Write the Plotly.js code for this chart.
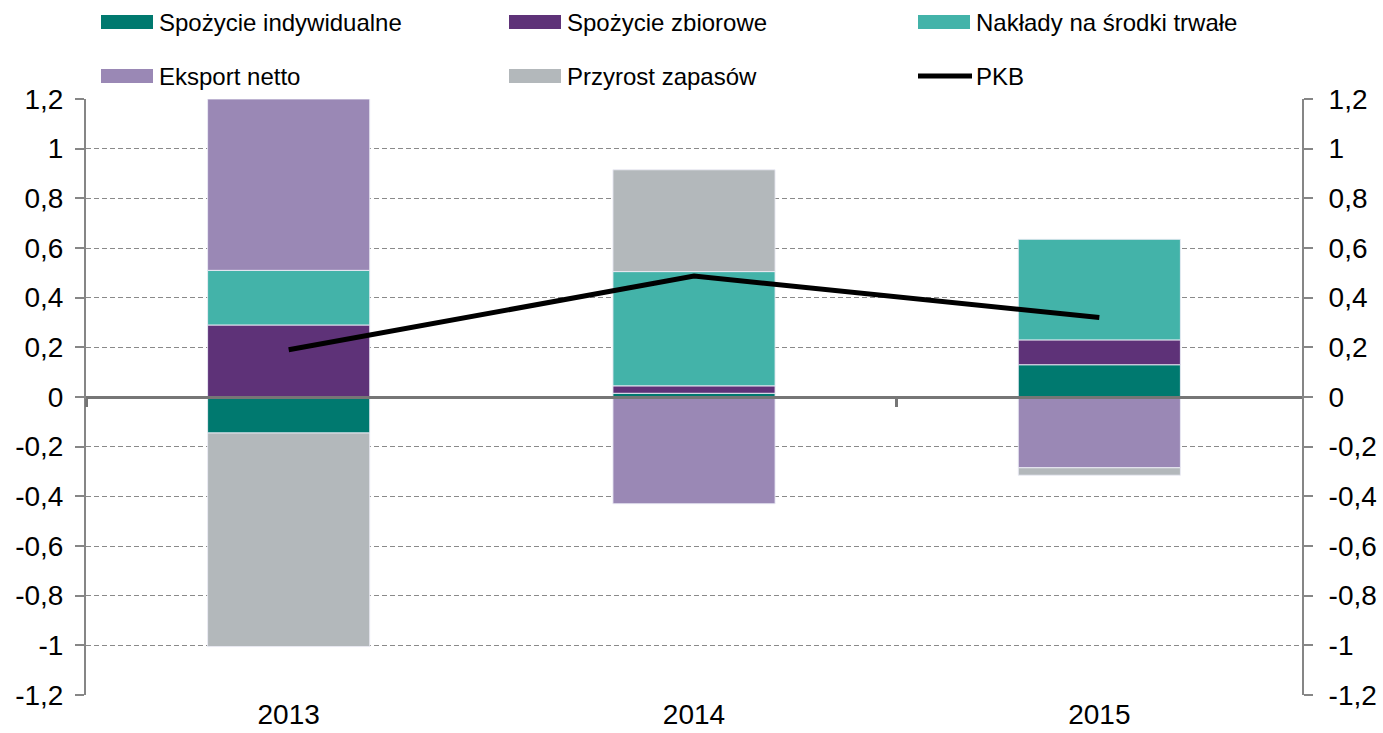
<!DOCTYPE html>
<html>
<head>
<meta charset="utf-8">
<script src="https://cdn.plot.ly/plotly-3.0.1.min.js"></script>
<style>html,body{margin:0;padding:0;background:#fff;}#chart{width:1383px;height:733px;}</style>
</head>
<body>
<div id="chart"></div>
<script>
// ---- data ----
const years = ['2013', '2014', '2015'];
const seriesNames = ['Spożycie indywidualne', 'Spożycie zbiorowe', 'Nakłady na środki trwałe', 'Eksport netto', 'Przyrost zapasów'];
const seriesColors = ['#00796F', '#5E3278', '#43B3A9', '#9A88B5', '#B3B8BB'];
const spozycieIndywidualne = [-0.145, 0.015, 0.13];
const spozycieZbiorowe = [0.29, 0.03, 0.10];
const nakladyNaSrodkiTrwale = [0.22, 0.46, 0.405];
const eksportNetto = [0.69, -0.43, -0.285];
const przyrostZapasow = [-0.86, 0.41, -0.03];
const pkb = [0.19, 0.487, 0.32];
const lineName = 'PKB';
const yTickVals = [-1.2, -1, -0.8, -0.6, -0.4, -0.2, 0, 0.2, 0.4, 0.6, 0.8, 1, 1.2];
const yTickLabels = ['-1,2', '-1', '-0,8', '-0,6', '-0,4', '-0,2', '0', '0,2', '0,4', '0,6', '0,8', '1', '1,2'];

const seriesValues = [spozycieIndywidualne, spozycieZbiorowe, nakladyNaSrodkiTrwale, eksportNetto, przyrostZapasow];
const yearIndex = years.map((_, i) => i);

const traces = seriesValues.map((vals, i) => ({
  type: 'bar', x: years, y: vals, name: seriesNames[i],
  marker: {color: seriesColors[i], line: {color: 'rgba(235,235,245,0.9)', width: 1}},
  width: 0.4, showlegend: false
}));
traces.push({
  type: 'scatter', mode: 'lines', x: years, y: pkb, name: lineName,
  line: {color: '#000000', width: 5}, showlegend: false
});
// invisible helper trace so the right axis and the zero-crossing axis are drawn
traces.push({type: 'scatter', x: yearIndex, y: pkb, xaxis: 'x2', yaxis: 'y2', mode: 'none', showlegend: false, hoverinfo: 'skip'});

// ---- custom legend (built from names/colors) ----
const W = 1383, H = 733, L = 86, R = 81, T = 99, B = 38;
const pw = W - L - R, ph = H - T - B;
const px2x = p => (p - L) / pw;
const py2y = p => (H - B - p) / ph;
const legendItems = [
  {name: seriesNames[0], color: seriesColors[0], type: 'box'},
  {name: seriesNames[1], color: seriesColors[1], type: 'box'},
  {name: seriesNames[2], color: seriesColors[2], type: 'box'},
  {name: seriesNames[3], color: seriesColors[3], type: 'box'},
  {name: seriesNames[4], color: seriesColors[4], type: 'box'},
  {name: lineName, color: '#000000', type: 'line'}
];
const colX = [101, 509, 918];
const rowY = [22, 76];
const shapes = [];
const annotations = [];
legendItems.forEach((it, k) => {
  const cx = colX[k % 3], cy = rowY[Math.floor(k / 3)];
  if (it.type === 'box') {
    shapes.push({type: 'rect', xref: 'paper', yref: 'paper', x0: px2x(cx), x1: px2x(cx + 52), y0: py2y(cy + 7), y1: py2y(cy - 7), fillcolor: it.color, line: {width: 0}});
  } else {
    shapes.push({type: 'line', xref: 'paper', yref: 'paper', x0: px2x(cx), x1: px2x(cx + 54), y0: py2y(cy), y1: py2y(cy), line: {color: it.color, width: 5}});
  }
  annotations.push({xref: 'paper', yref: 'paper', x: px2x(cx + 56), y: py2y(cy), xanchor: 'left', yanchor: 'middle', text: it.name, showarrow: false, font: {size: 24, color: '#000', family: 'Liberation Sans, Arial, sans-serif'}});
});

const fam = 'Liberation Sans, Arial, sans-serif';
const yTickFont = {size: 28, color: '#000', family: fam};
const xTickFont = {size: 28, color: '#000', family: fam};
const layout = {
  width: W, height: H,
  margin: {l: L, r: R, t: T, b: B, pad: 0},
  paper_bgcolor: '#fff', plot_bgcolor: '#fff',
  barmode: 'relative',
  showlegend: false,
  font: {family: fam, color: '#000'},
  xaxis: {type: 'category', showline: false, showgrid: false, zeroline: false, ticks: '', tickfont: xTickFont, ticklabelstandoff: 0},
  xaxis2: {overlaying: 'x', type: 'linear', range: [-0.5, 2.5], anchor: 'free', position: 0.5,
    tickvals: [-0.5, 1.5], showticklabels: false, ticks: 'outside', ticklen: 8, tickwidth: 3, tickcolor: '#767676',
    showline: true, linewidth: 3, linecolor: '#767676', showgrid: false, zeroline: false, layer: 'above traces'},
  yaxis: {range: [-1.2, 1.2], tickvals: yTickVals, ticktext: yTickLabels, showgrid: true, gridcolor: '#8a8a8a', gridwidth: 1, griddash: '5px,3px',
    zeroline: false, showline: true, linecolor: '#868686', linewidth: 2, ticks: 'outside', ticklen: 9, tickcolor: '#868686', tickwidth: 2,
    tickfont: yTickFont, ticklabelstandoff: 6},
  yaxis2: {overlaying: 'y', side: 'right', range: [-1.2, 1.2], tickvals: yTickVals, ticktext: yTickLabels, showgrid: false,
    zeroline: false, showline: true, linecolor: '#868686', linewidth: 2, ticks: 'outside', ticklen: 9, tickcolor: '#868686', tickwidth: 2,
    tickfont: yTickFont, ticklabelstandoff: 10},
  shapes: shapes, annotations: annotations
};

Plotly.newPlot('chart', traces, layout, {displayModeBar: false, staticPlot: true});
</script>
</body>
</html>
